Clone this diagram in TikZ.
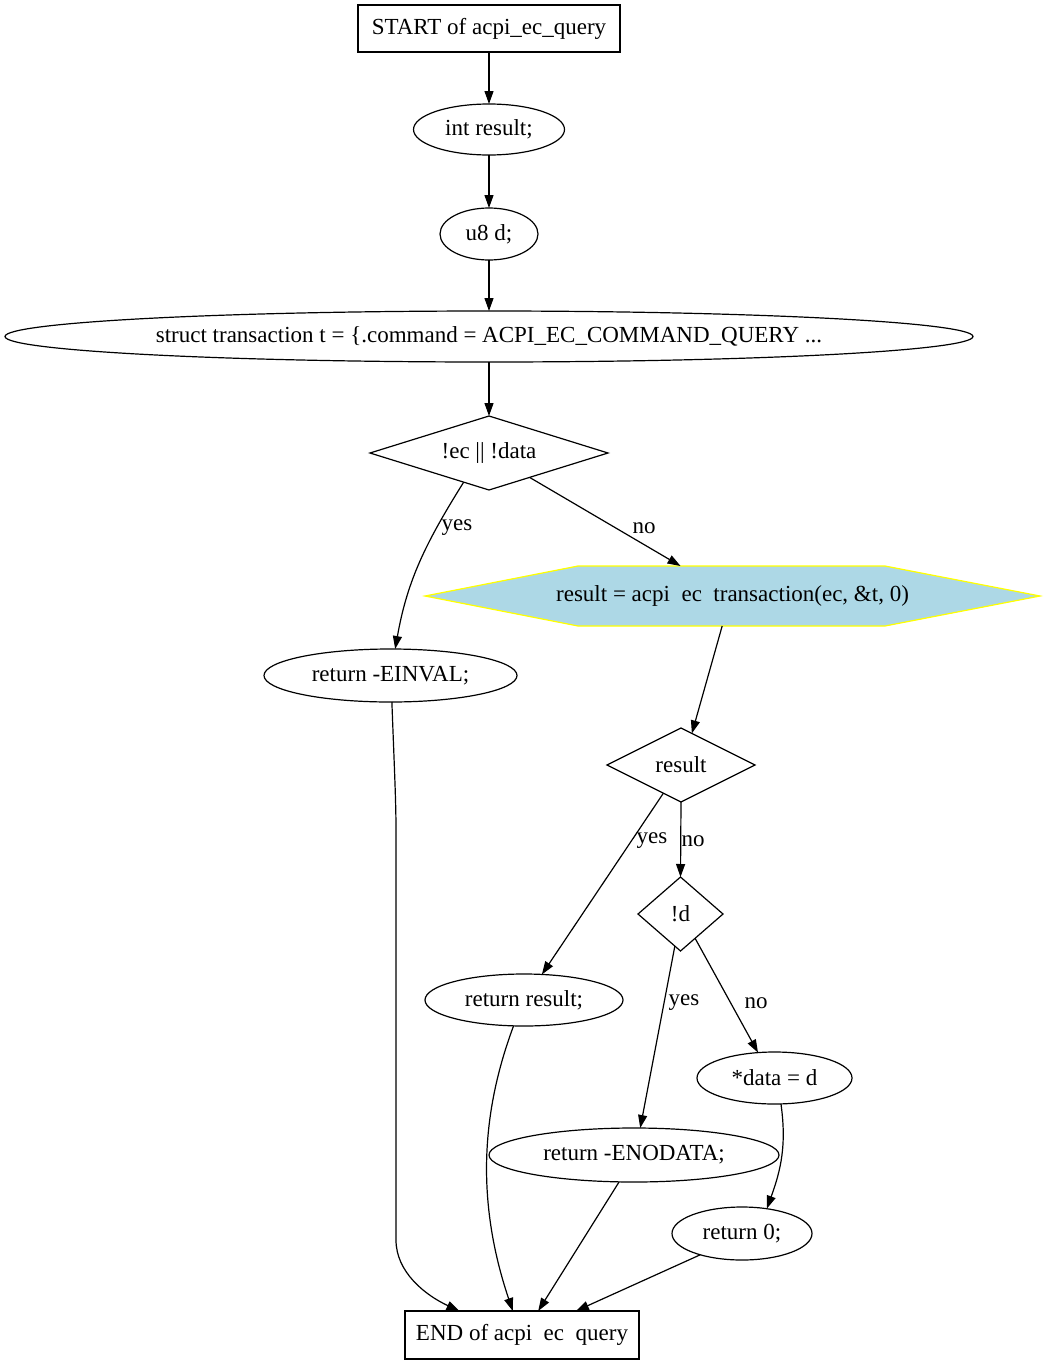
\documentclass[tikz,border=0pt]{standalone}
\usepackage{fontspec}
\setmainfont{Liberation Serif}
\usetikzlibrary{shapes.geometric,arrows.meta}
\definecolor{hexfill}{HTML}{ADD8E6}
\definecolor{hexdraw}{HTML}{FFFF00}
\tikzset{
  every node/.style={font=\fontsize{23}{27}\selectfont, inner sep=0pt, outer sep=0pt},
  boxnode/.style={draw, rectangle, line width=1.2pt},
  ellnode/.style={draw, ellipse, line width=1.2pt},
  dianode/.style={draw, diamond, line width=1.2pt},
  conn/.style={line width=1.2pt, -{Triangle[length=13pt,width=9pt]}},
  lbl/.style={font=\fontsize{23}{27}\selectfont}
}
\newcommand{\gapu}{\hspace{0.5em}}
\begin{document}
\begin{tikzpicture}[x=1pt,y=-1pt]
\useasboundingbox (0,0) rectangle (1044,1365);
% nodes
\node[boxnode, minimum width=262pt, minimum height=47pt] (start) at (489,28.5) {START of acpi\_ec\_query};
\node[ellnode, minimum width=151pt, minimum height=51pt] (int) at (489,129.5) {int result;};
\node[ellnode, minimum width=98pt, minimum height=52pt] (u8) at (489,234) {u8 d;};
\node[ellnode, minimum width=968pt, minimum height=51pt] (st) at (489,336.5) {struct transaction t = \{.command = ACPI\_EC\_COMMAND\_QUERY ...};
\node[dianode, aspect=3.2, minimum width=238pt, minimum height=74pt] (dec) at (489,453) {!ec || !data};
% hexagon
\fill[hexfill] (425,596) -- (578,566) -- (885,566) -- (1040,596) -- (885,626) -- (578,626) -- cycle;
\draw[hexdraw, line width=1.2pt] (425,596) -- (578,566) -- (885,566) -- (1040,596) -- (885,626) -- (578,626) -- cycle;
\node[minimum width=615pt, minimum height=60pt] (hex) at (732.5,596) {result = acpi\gapu ec\gapu transaction(ec, \&t, 0)};
\node[ellnode, minimum width=253pt, minimum height=53pt] (einval) at (390.5,675.5) {return -EINVAL;};
\node[dianode, aspect=2, minimum width=148pt, minimum height=74pt] (res) at (681,765) {result};
\node[dianode, aspect=1.15, minimum width=85pt, minimum height=74pt] (notd) at (680.5,914) {!d};
\node[ellnode, minimum width=198pt, minimum height=52pt] (retres) at (524,1000) {return result;};
\node[ellnode, minimum width=155pt, minimum height=52pt] (data) at (774.5,1078) {*data = d};
\node[ellnode, minimum width=290pt, minimum height=54pt] (enod) at (634,1155) {return -ENODATA;};
\node[ellnode, minimum width=140pt, minimum height=53pt] (ret0) at (742,1233.5) {return 0;};
\node[boxnode, minimum width=234pt, minimum height=48pt] (end) at (522,1335) {END of acpi\gapu ec\gapu query};
% connectors
\draw[conn] (start.south) -- (int.north);
\draw[conn] (int.south) -- (u8.north);
\draw[conn] (u8.south) -- (st.north);
\draw[conn] (st.south) -- (dec.north);
\draw[conn] (dec.229) to[out=-122,in=80] (einval.80);
\draw[conn] (dec.-31) -- (hex.150);
\draw[conn] (hex.-109) -- (res.71);
\draw[conn] (res.238) -- (retres.55);
\draw[conn] (res.south) -- (notd.north);
\draw[conn] (notd.-100) -- (enod.77);
\draw[conn] (notd.-59) -- (data.123);
\draw[conn] (einval.-87) .. controls (394,760) and (396,800) .. (396,830) -- (396,1240) .. controls (396,1272) and (425,1295) .. (end.159);
\draw[conn] (retres.-112) .. controls (486,1100) and (472,1190) .. (end.111);
\draw[conn] (enod.241) -- (end.56);
\draw[conn] (data.-76) to[out=-82,in=70] (ret0.45);
\draw[conn] (ret0.207) -- (end.24);
% labels
\node[lbl] (l1) at (457,528) {yes};
\node[lbl] (l2) at (644,528) {no};
\node[lbl] (l3) at (652,841) {yes};
\node[lbl] (l4) at (693,841) {no};
\node[lbl] (l5) at (684,1003) {yes};
\node[lbl] (l6) at (756,1003) {no};
\end{tikzpicture}
\end{document}
